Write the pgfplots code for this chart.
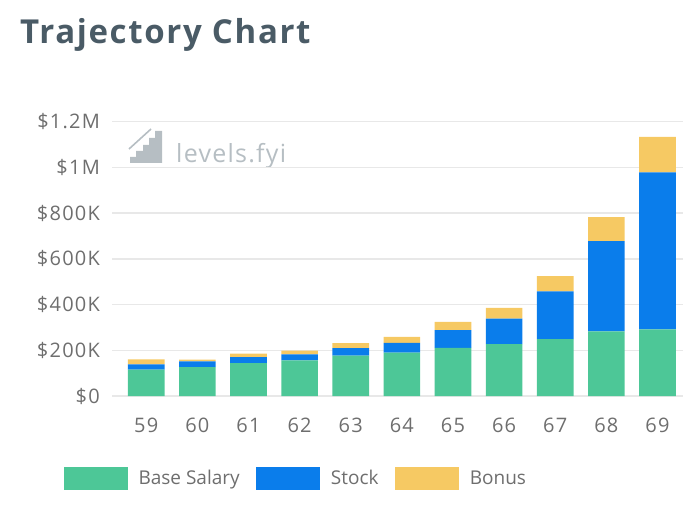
\documentclass[border=0pt]{standalone}
\usepackage{fontspec}
\setmainfont{Open Sans}
\usepackage{pgfplots}
\usepackage{pgfplotstable}
\pgfplotsset{compat=1.18}

\definecolor{basec}{HTML}{4DC797}
\definecolor{stockc}{HTML}{0A7DEB}
\definecolor{bonusc}{HTML}{F6C963}
\definecolor{titlec}{HTML}{4A5B66}
\definecolor{tickc}{HTML}{6E6E6E}
\definecolor{gridc}{HTML}{E8E8E8}
\definecolor{markc}{HTML}{B6BEC3}

% compensation by age, in thousands of dollars
\pgfplotstableread{
age base stock bonus
59 115 23 22
60 126 25 8
61 144 26 15
62 156 26 17
63 177 32 22
64 190 42 27
65 211 77 36
66 227 112 46
67 249 209 66
68 283 394 105
69 292 686 156
}\traj

\begin{document}
\begin{tikzpicture}
\useasboundingbox (0pt,0pt) rectangle (700pt,508pt);

\node[anchor=base west, inner sep=0pt, text=titlec,
      font=\fontsize{33}{38}\selectfont\bfseries\addfontfeature{LetterSpace=5}]
      at (20pt,464pt) {Trajectory Chart};

% watermark
\fill[markc] (130pt,345pt) -- (130pt,351pt) -- (136pt,351pt) -- (136pt,357pt) -- (143pt,357pt)
  -- (143pt,363pt) -- (149pt,363pt) -- (149pt,370pt) -- (155pt,370pt) -- (155pt,377pt)
  -- (162pt,377pt) -- (162pt,345pt) -- cycle;
\draw[markc, line width=1.6pt] (129pt,359pt) -- (151pt,379pt);
\node[anchor=base west, inner sep=0pt, text=markc,
      font=\fontsize{25}{30}\selectfont\addfontfeature{LetterSpace=5}]
      at (176pt,345pt) {levels.fyi};

\begin{axis}[
  at={(112pt,112pt)}, anchor=south west,
  scale only axis, width=571pt, height=274.3pt,
  ybar stacked, bar width=0.717,
  xmin=58.33, xmax=69.5,
  ymin=0, ymax=1200,
  axis line style={draw=none},
  major tick style={draw=none},
  ymajorgrids, grid style={gridc, line width=1.4pt},
  xtick=data,
  xticklabels={59,60,61,62,63,64,65,66,67,68,69},
  ytick={0,200,400,600,800,1000,1200},
  yticklabels={\$0,\$200K,\$400K,\$600K,\$800K,\$1M,\$1.2M},
  ticklabel style={text=tickc, inner sep=0pt,
    font=\fontsize{20}{24}\selectfont\addfontfeature{LetterSpace=6}},
  yticklabel style={anchor=base east, xshift=-12pt, yshift=-7pt},
  xticklabel style={anchor=base, yshift=-36pt},
  legend style={draw=none, fill=none, inner sep=0pt, outer sep=0pt,
    at={(axis description cs:-0.084,-0.3008)}, anchor=west,
    legend columns=3,
    font=\fontsize{19}{23}\selectfont, text=tickc,
    nodes={inner sep=0pt},
    /tikz/every odd column/.append style={column sep=10.5pt},
    /tikz/every even column/.append style={column sep=16.7pt}},
  legend image code/.code={\fill[#1] (0pt,-11.5pt) rectangle (64pt,11.5pt);},
]
\addplot[fill=basec, draw=none] table[x=age, y=base] {\traj};
\addplot[fill=stockc, draw=none] table[x=age, y=stock] {\traj};
\addplot[fill=bonusc, draw=none] table[x=age, y=bonus] {\traj};
\legend{Base Salary, Stock, Bonus}
\end{axis}
\end{tikzpicture}
\end{document}
